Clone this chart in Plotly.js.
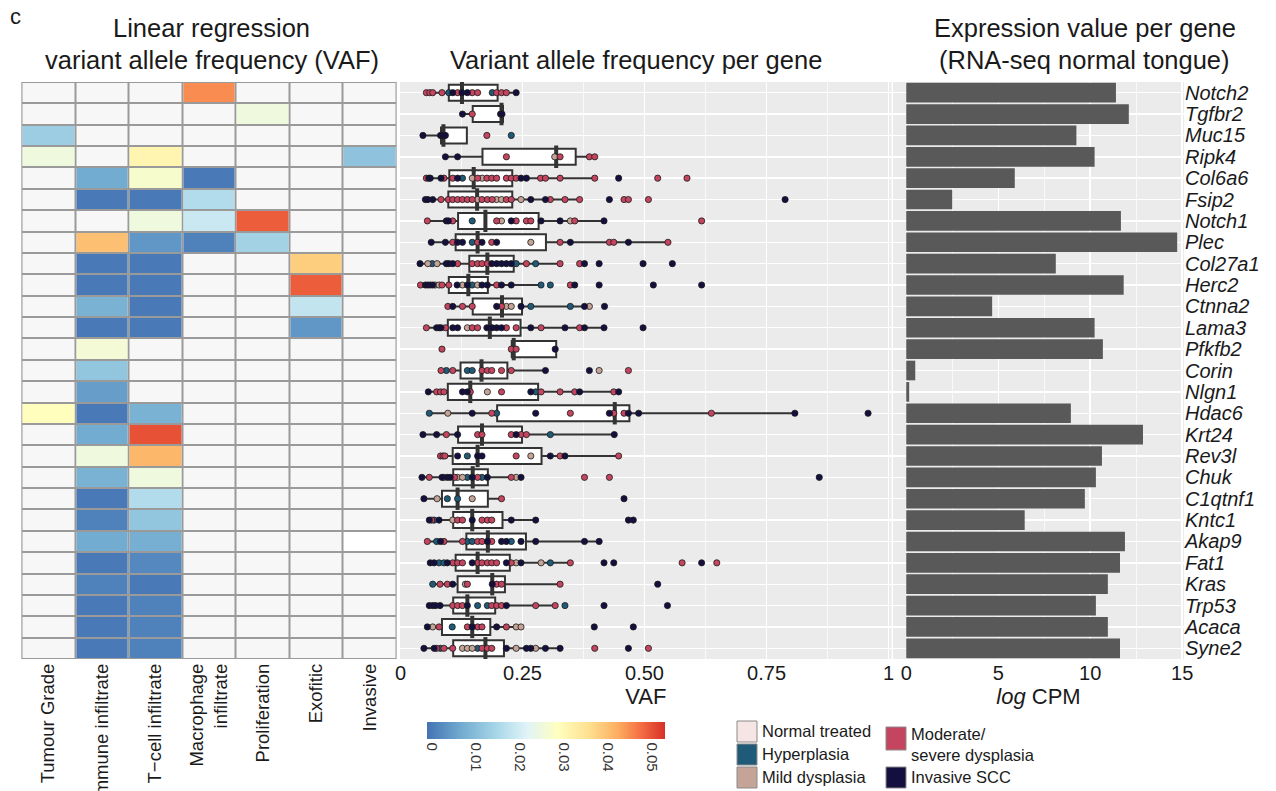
<!DOCTYPE html>
<html>
<head>
<meta charset="utf-8">
<script src="https://cdn.plot.ly/plotly-3.0.1.min.js"></script>
<style>html,body{margin:0;padding:0;background:#fff;}#chart{width:1276px;height:791px;}</style>
</head>
<body>
<div id="chart"></div>
<script>
// ---------- DATA ----------
const genes = ['Notch2','Tgfbr2','Muc15','Ripk4','Col6a6','Fsip2','Notch1','Plec','Col27a1','Herc2','Ctnna2','Lama3','Pfkfb2','Corin','Nlgn1','Hdac6','Krt24','Rev3l','Chuk','C1qtnf1','Kntc1','Akap9','Fat1','Kras','Trp53','Acaca','Syne2'];

const features = ['Tumour Grade','Immune infiltrate','T\u2212cell infiltrate','Macrophage<br>infiltrate','Proliferation','Exofitic','Invasive'];

// Linear regression heatmap values (null = not shown)
const heatValues = [
  [null,null,null,0.045,null,null,null],
  [null,null,null,null,0.025,null,null],
  [0.013,null,null,null,null,null,null],
  [0.025,null,0.031,null,null,null,0.011],
  [null,0.007,0.027,0.000,null,null,null],
  [null,0.000,0.000,0.016,null,null,null],
  [null,null,0.025,0.019,0.049,null,null],
  [null,0.040,0.004,0.001,0.014,null,null],
  [null,0.000,0.000,null,null,0.038,null],
  [null,0.000,0.000,null,null,0.049,null],
  [null,0.008,0.000,null,null,0.018,null],
  [null,0.000,0.000,null,null,0.004,null],
  [null,0.026,null,null,null,null,null],
  [null,0.0115,null,null,null,null,null],
  [null,0.005,null,null,null,null,null],
  [0.029,0.000,0.008,null,null,null,null],
  [null,0.007,0.050,null,null,null,null],
  [null,0.025,0.041,null,null,null,null],
  [null,0.008,0.025,null,null,null,null],
  [null,0.000,0.016,null,null,null,null],
  [null,0.001,0.0115,null,null,null,null],
  [null,0.007,0.0075,null,null,null,null],
  [null,0.000,0.002,null,null,null,null],
  [null,0.001,0.000,null,null,null,null],
  [null,0.000,0.001,null,null,null,null],
  [null,0.000,0.001,null,null,null,null],
  [null,0.000,0.001,null,null,null,null]
];
// cells drawn pure white (row, column)
const whiteCells = [[21,6]];

const colorTicks = [0,0.01,0.02,0.03,0.04,0.05];

// Box statistics of VAF per gene
const boxQ1  = [0.099,0.148,0.083,0.168,0.100,0.098,0.118,0.113,0.141,0.099,0.148,0.097,0.228,0.123,0.097,0.198,0.118,0.107,0.108,0.085,0.108,0.135,0.113,0.117,0.108,0.085,0.108];
const boxMed = [0.126,0.207,0.088,0.319,0.150,0.157,0.174,0.158,0.178,0.139,0.208,0.183,0.232,0.166,0.143,0.439,0.167,0.158,0.148,0.117,0.147,0.179,0.158,0.188,0.137,0.147,0.174];
const boxQ3  = [0.199,0.210,0.136,0.359,0.229,0.229,0.283,0.298,0.232,0.179,0.249,0.246,0.319,0.219,0.282,0.469,0.249,0.289,0.179,0.179,0.209,0.257,0.224,0.214,0.194,0.184,0.212];
const boxLo  = [0.053,0.127,0.046,0.092,0.053,0.051,0.055,0.063,0.040,0.041,0.097,0.053,0.228,0.083,0.057,0.059,0.046,0.082,0.044,0.048,0.059,0.055,0.061,0.066,0.059,0.055,0.048];
const boxHi  = [0.237,0.210,0.136,0.398,0.398,0.367,0.417,0.548,0.327,0.288,0.377,0.417,0.319,0.297,0.447,0.808,0.438,0.447,0.247,0.207,0.277,0.407,0.348,0.327,0.317,0.247,0.327];

// Individual VAF points per gene, and stage code per point
// N normal treated, H hyperplasia, M mild dysplasia, S moderate/severe dysplasia, I invasive SCC
const pointVAF = [
  [0.053,0.060,0.066,0.085,0.099,0.107,0.117,0.126,0.137,0.147,0.158,0.188,0.197,0.207,0.217,0.237],
  [0.127,0.147,0.205,0.208],
  [0.046,0.082,0.088,0.092,0.177,0.227],
  [0.092,0.117,0.217,0.316,0.327,0.387,0.398],
  [0.053,0.058,0.061,0.083,0.089,0.107,0.117,0.127,0.147,0.158,0.167,0.177,0.187,0.197,0.217,0.227,0.237,0.247,0.258,0.287,0.297,0.327,0.398,0.447,0.527,0.587],
  [0.051,0.056,0.066,0.083,0.098,0.107,0.117,0.127,0.137,0.147,0.158,0.167,0.178,0.188,0.197,0.207,0.217,0.227,0.247,0.267,0.297,0.307,0.337,0.367,0.428,0.458,0.467,0.508,0.788],
  [0.055,0.094,0.098,0.107,0.147,0.197,0.207,0.227,0.237,0.258,0.267,0.288,0.327,0.348,0.357,0.417,0.617],
  [0.063,0.092,0.107,0.117,0.127,0.147,0.158,0.167,0.187,0.197,0.267,0.327,0.348,0.428,0.437,0.467,0.548],
  [0.040,0.056,0.065,0.075,0.094,0.099,0.107,0.117,0.147,0.158,0.167,0.178,0.187,0.197,0.207,0.217,0.227,0.237,0.258,0.277,0.327,0.367,0.377,0.407,0.497,0.557],
  [0.041,0.051,0.056,0.061,0.066,0.071,0.079,0.085,0.099,0.116,0.127,0.137,0.147,0.158,0.167,0.178,0.197,0.207,0.227,0.288,0.307,0.348,0.357,0.407,0.518,0.617],
  [0.097,0.107,0.127,0.147,0.197,0.207,0.217,0.227,0.247,0.267,0.348,0.377,0.387,0.418],
  [0.053,0.074,0.079,0.083,0.092,0.107,0.117,0.137,0.147,0.158,0.177,0.188,0.197,0.207,0.217,0.237,0.267,0.288,0.337,0.367,0.377,0.417,0.497],
  [0.085,0.227,0.237,0.317],
  [0.083,0.094,0.107,0.137,0.147,0.167,0.178,0.187,0.207,0.227,0.297,0.387,0.407,0.467],
  [0.057,0.074,0.082,0.089,0.127,0.137,0.143,0.178,0.207,0.267,0.277,0.288,0.327,0.357,0.367,0.437,0.447],
  [0.059,0.097,0.147,0.187,0.197,0.277,0.348,0.428,0.437,0.458,0.467,0.488,0.637,0.808,0.958],
  [0.046,0.074,0.094,0.117,0.158,0.167,0.227,0.237,0.247,0.258,0.307,0.438],
  [0.082,0.087,0.091,0.117,0.137,0.158,0.167,0.237,0.267,0.307,0.327,0.337,0.447],
  [0.044,0.059,0.085,0.089,0.096,0.102,0.111,0.117,0.127,0.137,0.147,0.158,0.167,0.178,0.227,0.237,0.247,0.377,0.428,0.858],
  [0.048,0.075,0.096,0.117,0.147,0.207,0.458],
  [0.059,0.064,0.069,0.079,0.107,0.117,0.127,0.147,0.167,0.178,0.187,0.227,0.277,0.467,0.477],
  [0.055,0.074,0.082,0.089,0.127,0.137,0.147,0.158,0.167,0.178,0.187,0.207,0.217,0.227,0.247,0.277,0.377,0.407],
  [0.061,0.069,0.079,0.089,0.096,0.107,0.117,0.127,0.147,0.158,0.167,0.178,0.187,0.197,0.217,0.227,0.237,0.247,0.288,0.307,0.348,0.417,0.437,0.577,0.617,0.648],
  [0.066,0.081,0.096,0.107,0.133,0.137,0.188,0.197,0.207,0.327,0.527],
  [0.059,0.066,0.072,0.081,0.107,0.117,0.127,0.137,0.158,0.178,0.187,0.197,0.207,0.217,0.277,0.317,0.337,0.417,0.547],
  [0.055,0.066,0.079,0.106,0.137,0.147,0.158,0.167,0.197,0.217,0.237,0.247,0.397,0.477],
  [0.048,0.069,0.074,0.082,0.089,0.107,0.127,0.137,0.147,0.158,0.167,0.178,0.187,0.217,0.237,0.258,0.267,0.277,0.297,0.327,0.398,0.467,0.508]
];
const pointStage = [
  'SSSSHISIISSHSSSI','ISII','IIIISH','IISMSSS','SIIISSIHMSMSSSSSSIISSSSISS',
  'IIISSSSSSSMSSSMMSSMIISSSISSSI','SIISHSMISSSIIMSIS','IISIIHSISIMSISSIS',
  'IMHMIIISSSSSIIIIIHSHSSIIII','SIIIIMMSSIMIHMIISIIHHSIIII','SISSISMMIHHIMI',
  'SIIISIIMSSIIIISSISISIII','SSSI','SHSHHSSSSSIIMS','ISSSIISMSIHSSSISI',
  'HMISHISISSIISII','IISISSSISSHI','SSSIHIISMISIS','ISIMIISMMHISHISMISSI',
  'IMHHMSI','ISHIMSSISSSIIII','SHISSHHSSISIIHIIII','IIHHISSSISSSSSISMIMHSIISIS',
  'HSSIMSISSSI','IIIISSSIHHSSSISSHII','IMSHSISSISMMII','IISHSSMMMHSSSIMIIMIISIS'
];
const stageCodes  = ['N','H','M','S','I'];
const stageNames  = ['Normal treated','Hyperplasia','Mild dysplasia','Moderate/<br>severe dysplasia','Invasive SCC'];
const stageColors = ['#f7e4e4','#1f5b79','#c4a497','#c3455f','#13103f'];

// Expression (log CPM) per gene
const logCPM = [11.4,12.1,9.25,10.24,5.9,2.5,11.67,14.73,8.13,11.82,4.67,10.24,10.69,0.49,0.16,8.95,12.87,10.64,10.31,9.71,6.44,11.89,11.62,10.96,10.31,10.96,11.62];

// ---------- BUILD ----------
const W = 1276, H = 791;
const PX = p => p / W;
const PY = p => 1 - p / H;
const FONT = 'Liberation Sans, Arial, Helvetica, sans-serif';
const TXT = '#1a1a1a';

const rowIdx = genes.map((g, i) => i);
const colIdx = features.map((f, j) => j);

const baseZ = genes.map((g, i) => features.map((f, j) => whiteCells.some(c => c[0] === i && c[1] === j) ? 1 : 0));

const heatScale = [
  [0, '#4373b3'], [0.15, '#74add1'], [0.3, '#abd9e9'], [0.42, '#e0f3f8'],
  [0.55, '#ffffbf'], [0.68, '#fee090'], [0.8, '#fdae61'], [0.9, '#f46d43'], [1, '#d73027']
];

const traces = [];

traces.push({
  type: 'heatmap', x: colIdx, y: rowIdx, z: baseZ,
  colorscale: [[0, '#f7f7f7'], [1, '#ffffff']], zmin: 0, zmax: 1,
  showscale: false, xgap: 2, ygap: 2, hoverinfo: 'skip',
  xaxis: 'x', yaxis: 'y'
});
traces.push({
  type: 'heatmap', x: colIdx, y: rowIdx, z: heatValues,
  colorscale: heatScale, zmin: -0.001, zmax: 0.053,
  xgap: 2, ygap: 2, hoverongaps: false,
  xaxis: 'x', yaxis: 'y',
  colorbar: {
    orientation: 'h', x: PX(546), xanchor: 'center', y: PY(722), yanchor: 'top',
    len: 238 / W, lenmode: 'fraction', thickness: 17, outlinewidth: 0,
    xpad: 0, ypad: 0,
    tickvals: colorTicks, ticktext: colorTicks.map(String), tickangle: 90,
    ticks: '', tickfont: {family: FONT, size: 15, color: '#333'}
  }
});

// Boxes
traces.push({
  type: 'box', orientation: 'h', y: genes,
  q1: boxQ1, median: boxMed, q3: boxQ3, lowerfence: boxLo, upperfence: boxHi,
  width: 0.75, whiskerwidth: 0, boxpoints: false,
  fillcolor: '#ffffff', line: {color: '#333333', width: 2},
  xaxis: 'x2', yaxis: 'y2', showlegend: false, hoverinfo: 'skip'
});
// Thick median
traces.push({
  type: 'scatter', mode: 'markers', x: boxMed, y: genes,
  marker: {symbol: 'line-ns', size: 16, line: {color: '#333333', width: 4}},
  xaxis: 'x2', yaxis: 'y2', showlegend: false, hoverinfo: 'skip'
});
// Points by stage
stageCodes.forEach((code, k) => {
  const xs = [], ys = [];
  pointVAF.forEach((arr, i) => arr.forEach((v, n) => {
    if (pointStage[i][n] === code) { xs.push(v); ys.push(genes[i]); }
  }));
  traces.push({
    type: 'scatter', mode: 'markers', x: xs, y: ys, name: stageNames[k],
    marker: {color: stageColors[k], size: 6.2, line: {color: '#1a1a1a', width: 0.8}},
    xaxis: 'x2', yaxis: 'y2', showlegend: false
  });
});

// Bars
traces.push({
  type: 'bar', orientation: 'h', x: logCPM, y: genes, width: 0.92,
  marker: {color: '#595959', line: {width: 0}},
  xaxis: 'x3', yaxis: 'y3', showlegend: false
});

const yDom = [PY(659), PY(82)];

const shapes = [
  {type: 'rect', xref: 'x', yref: 'y', x0: -0.5, x1: 6.5, y0: -0.5, y1: 26.5,
   fillcolor: '#9a9a9a', line: {color: '#9a9a9a', width: 2}, layer: 'below'}
];
const annotations = [];

// Legend (stage colors)
const legItems = [
  {k: 0, x: 737, y0: 721, y1: 742, tx: [['Normal treated', 731]]},
  {k: 1, x: 737, y0: 744, y1: 765, tx: [['Hyperplasia', 754]]},
  {k: 2, x: 737, y0: 767, y1: 788, tx: [['Mild dysplasia', 777]]},
  {k: 3, x: 886, y0: 727, y1: 750, tx: [['Moderate/', 734], ['severe dysplasia', 755]]},
  {k: 4, x: 886, y0: 767, y1: 788, tx: [['Invasive SCC', 777]]}
];
legItems.forEach(it => {
  shapes.push({type: 'rect', xref: 'paper', yref: 'paper',
    x0: PX(it.x), x1: PX(it.x + 20), y0: PY(it.y1), y1: PY(it.y0),
    fillcolor: stageColors[it.k], line: {color: '#8a8a8a', width: 1}});
  it.tx.forEach(t => annotations.push({xref: 'paper', yref: 'paper', x: PX(it.x + 23), y: PY(t[1]),
    xanchor: 'left', yanchor: 'middle', showarrow: false, text: t[0],
    font: {family: FONT, size: 16.5, color: TXT}}));
});

function title(text, cx, cy, size) {
  annotations.push({xref: 'paper', yref: 'paper', x: PX(cx), y: PY(cy), xanchor: 'center', yanchor: 'middle',
    showarrow: false, text: text, font: {family: FONT, size: size, color: TXT}});
}
title('c', 15, 17, 22);
title('Linear regression', 211, 28, 25.5);
title('variant allele frequency (VAF)', 212, 60, 25.5);
title('Variant allele frequency per gene', 636, 60, 25.5);
title('Expression value per gene', 1085, 28, 25.5);
title('(RNA-seq normal tongue)', 1084, 60, 25.5);

const layout = {
  width: W, height: H, margin: {l: 0, r: 0, t: 0, b: 0},
  paper_bgcolor: '#ffffff', plot_bgcolor: '#ebebeb',
  showlegend: false, font: {family: FONT, color: TXT},
  xaxis: {domain: [PX(21.5), PX(396.5)], range: [-0.5, 6.5], anchor: 'y',
    tickvals: colIdx, ticktext: features, tickangle: -90, ticks: '',
    tickfont: {family: FONT, size: 18.5, color: TXT}, showgrid: false, zeroline: false, showline: false},
  yaxis: {domain: yDom, range: [26.5, -0.5], anchor: 'x', showticklabels: false,
    showgrid: false, zeroline: false, ticks: ''},
  xaxis2: {domain: [PX(400), PX(891.5)], range: [-0.001, 1.006], anchor: 'y2',
    tickvals: [0, 0.25, 0.5, 0.75, 1], ticktext: ['0', '0.25', '0.50', '0.75', '1'], ticks: '',
    tickfont: {family: FONT, size: 20, color: TXT},
    showgrid: true, gridcolor: '#ffffff', gridwidth: 1.4, zeroline: false,
    minor: {tickvals: [0.125, 0.375, 0.625, 0.875], showgrid: true, gridcolor: '#ffffff', gridwidth: 0.7, ticks: ''},
    title: {text: 'VAF', font: {family: FONT, size: 22, color: TXT}, standoff: 0}},
  yaxis2: {domain: yDom, type: 'category', categoryorder: 'array', categoryarray: genes,
    range: [26.5, -0.5], anchor: 'x2', showticklabels: false, ticks: '',
    showgrid: true, gridcolor: '#ffffff', gridwidth: 1.4, zeroline: false},
  xaxis3: {domain: [PX(893), PX(1184)], range: [-0.72, 15.1], anchor: 'y3',
    tickvals: [0, 5, 10, 15], ticks: '', tickfont: {family: FONT, size: 20, color: TXT},
    showgrid: true, gridcolor: '#ffffff', gridwidth: 1.4, zeroline: false,
    minor: {tickvals: [2.5, 7.5, 12.5], showgrid: true, gridcolor: '#ffffff', gridwidth: 0.7, ticks: ''},
    title: {text: '<i>log</i> CPM', font: {family: FONT, size: 22, color: TXT}, standoff: 0}},
  yaxis3: {domain: yDom, type: 'category', categoryorder: 'array', categoryarray: genes,
    range: [26.5, -0.5], anchor: 'x3', side: 'right', ticks: '',
    tickvals: genes, ticktext: genes.map(g => '<i>' + g + '</i>'),
    tickfont: {family: FONT, size: 20, color: TXT},
    showgrid: true, gridcolor: '#ffffff', gridwidth: 1.4, zeroline: false},
  shapes: shapes,
  annotations: annotations
};

Plotly.newPlot('chart', traces, layout, {displayModeBar: false, staticPlot: true});
</script>
</body>
</html>
